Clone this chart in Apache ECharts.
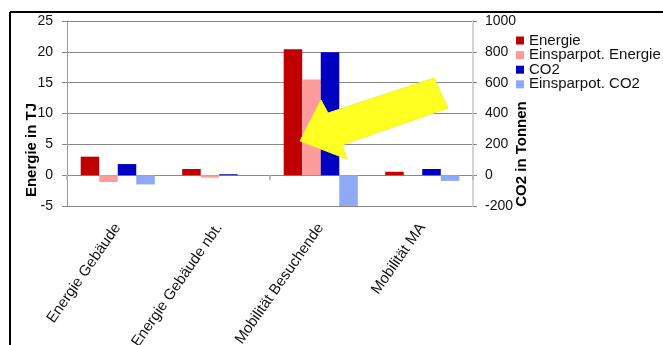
<!DOCTYPE html>
<html>
<head>
<meta charset="utf-8">
<script src="https://cdn.jsdelivr.net/npm/echarts@6/dist/echarts.min.js"></script>
<style>html,body{margin:0;padding:0;background:#fff;}#c{width:663px;height:345px;}</style>
</head>
<body>
<div id="c"></div>
<script>
var categories = ['Energie Gebäude', 'Energie Gebäude nbt.', 'Mobilität Besuchende', 'Mobilität MA'];
var energie = [3.0, 1.0, 20.4, 0.55];
var einsparEnergie = [-1.1, -0.4, 15.5, 0];
var co2 = [72, 6, 797, 40];
var einsparCO2 = [-60, 0, -200, -37];
var leftTicks = {min: -5, max: 25, interval: 5};
var rightTicks = {min: -200, max: 1000, interval: 200};

var font = 'Arial, "Liberation Sans", sans-serif';
var chart = echarts.init(document.getElementById('c'), null, {renderer: 'canvas'});
chart.setOption({
  animation: false,
  backgroundColor: '#fff',
  grid: {left: 67, right: 190, top: 21, bottom: 139, containLabel: false, outerBoundsMode: 'none'},
  legend: {
    orient: 'vertical', left: 516, top: 33, padding: 0,
    itemWidth: 8, itemHeight: 8, itemGap: -0.4, icon: 'rect',
    textStyle: {fontFamily: font, fontSize: 15, color: '#111'},
    data: ['Energie', 'Einsparpot. Energie', 'CO2', 'Einsparpot. CO2']
  },
  xAxis: [
    {
      type: 'category', data: categories, position: 'bottom',
      axisLine: {onZero: true, lineStyle: {color: '#888', width: 1}},
      axisTick: {show: true, length: 5, lineStyle: {color: '#bbb', width: 2}},
      axisLabel: {show: false}, splitLine: {show: false}
    },
    {
      type: 'category', data: categories, position: 'bottom',
      axisLine: {show: false, onZero: false}, axisTick: {show: false},
      axisLabel: {rotate: 55, margin: 19, fontFamily: font, fontSize: 15, color: '#111', interval: 0},
      splitLine: {show: false}
    }
  ],
  yAxis: [
    {
      type: 'value', position: 'left', min: leftTicks.min, max: leftTicks.max, interval: leftTicks.interval,
      axisLine: {show: true, lineStyle: {color: '#999', width: 1}},
      axisTick: {show: true, length: 5, lineStyle: {color: '#888'}},
      axisLabel: {margin: 14, fontFamily: font, fontSize: 14, color: '#111'},
      splitLine: {show: true, lineStyle: {color: '#888', width: 1}}
    },
    {
      type: 'value', position: 'right', min: rightTicks.min, max: rightTicks.max, interval: rightTicks.interval,
      axisLine: {show: true, lineStyle: {color: '#d4d4d4', width: 2}},
      axisTick: {show: true, length: 4, lineStyle: {color: '#888'}},
      axisLabel: {margin: 12, fontFamily: font, fontSize: 14, color: '#111', formatter: function (v) { return String(v); }},
      splitLine: {show: false}
    }
  ],
  series: [
    {name: 'Energie', type: 'bar', xAxisIndex: 0, yAxisIndex: 0, data: energie, itemStyle: {color: '#C00000'}, barGap: '0%', barCategoryGap: '27%'},
    {name: 'Einsparpot. Energie', type: 'bar', xAxisIndex: 0, yAxisIndex: 0, data: einsparEnergie, itemStyle: {color: '#FF9B9B'}, barGap: '0%', barCategoryGap: '27%'},
    {name: 'CO2', type: 'bar', xAxisIndex: 0, yAxisIndex: 1, data: co2, itemStyle: {color: '#0000C0'}, barGap: '0%', barCategoryGap: '27%'},
    {name: 'Einsparpot. CO2', type: 'bar', xAxisIndex: 0, yAxisIndex: 1, data: einsparCO2, itemStyle: {color: '#8EA9F5'}, barGap: '0%', barCategoryGap: '27%'}
  ],
  graphic: [
    {type: 'line', shape: {x1: 10, y1: 12, x2: 663, y2: 12}, style: {stroke: '#000', lineWidth: 2}, z: 100},
    {type: 'line', shape: {x1: 10, y1: 12, x2: 10, y2: 345}, style: {stroke: '#000', lineWidth: 2}, z: 100},
    {type: 'text', x: 32, y: 150, rotation: Math.PI / 2,
     style: {text: 'Energie in TJ', font: 'bold 15px ' + font, fill: '#000', align: 'center', verticalAlign: 'middle'}, z: 100},
    {type: 'text', x: 522, y: 154, rotation: Math.PI / 2,
     style: {text: 'CO2 in Tonnen', font: 'bold 15px ' + font, fill: '#000', align: 'center', verticalAlign: 'middle'}, z: 100},
    {type: 'polygon', z: 200,
     shape: {points: [[300, 141], [321, 100], [328, 113], [434, 78], [448, 108], [342, 145], [347, 159]]},
     style: {fill: '#FFFF22', stroke: '#F2F230', lineWidth: 1}}
  ]
});
</script>
</body>
</html>
